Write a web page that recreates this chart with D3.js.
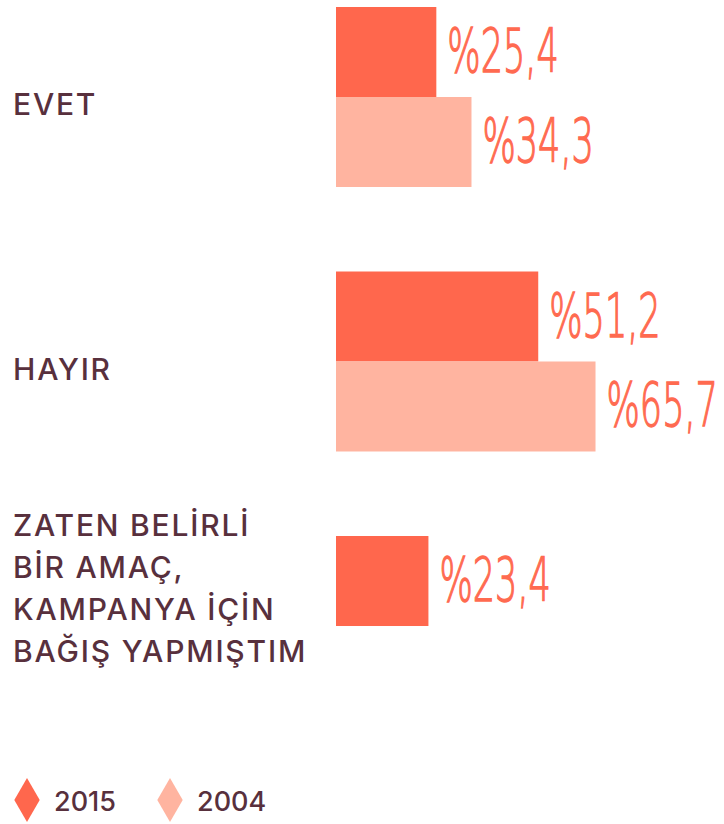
<!DOCTYPE html>
<html>
<head>
<meta charset="utf-8">
<script src="https://cdn.jsdelivr.net/npm/d3@7"></script>
<style>
  body { margin: 0; background: #fff; }
  .cat { font-family: Inter, "Noto Sans", sans-serif; font-size: 30px; font-weight: 500; letter-spacing: 1.8px; fill: #58303d; }
  .val { font-family: "DejaVu Sans", sans-serif; font-weight: 200; font-size: 61px; fill: #ff6a50; stroke: #ff6a50; stroke-width: 1.4px; }
  .leg { font-family: Inter, "Noto Sans", sans-serif; font-size: 27px; font-weight: 500; fill: #58303d; }
</style>
</head>
<body>
<div id="chart"></div>
<script>
// data
var categories = ["EVET", "HAYIR", "ZATEN"];
var categoryLabels = [
  ["EVET"],
  ["HAYIR"],
  ["ZATEN BELİRLİ", "BİR AMAÇ,", "KAMPANYA İÇİN", "BAĞIŞ YAPMIŞTIM"]
];
var seriesNames = ["2015", "2004"];
var values2015 = [25.4, 51.2, 23.4];
var values2004 = [34.3, 65.7, null];
var seriesColors = ["#ff674d", "#ffb4a0"];

var width = 724, height = 824;

var svg = d3.select("#chart").append("svg")
    .attr("width", width)
    .attr("height", height);

// scales
var x = d3.scaleLinear()
    .domain([0, 100])
    .range([336, 336 + 395]);

var y = d3.scaleBand()
    .domain(categories)
    .range([7, 716])
    .paddingInner(0.3195)
    .paddingOuter(0);

var ySub = d3.scaleBand()
    .domain(seriesNames)
    .range([0, y.bandwidth()]);

var rows = [];
categories.forEach(function(c, i) {
    rows.push({cat: c, series: "2015", value: values2015[i]});
    if (values2004[i] != null) rows.push({cat: c, series: "2004", value: values2004[i]});
});

var color = d3.scaleOrdinal().domain(seriesNames).range(seriesColors);
var fmt = function(v) { return "%" + String(v).replace(".", ","); };

// bars
svg.selectAll(".bar")
    .data(rows)
    .enter().append("rect")
    .attr("class", "bar")
    .attr("x", x(0))
    .attr("y", function(d) { return y(d.cat) + ySub(d.series); })
    .attr("width", function(d) { return x(d.value) - x(0); })
    .attr("height", ySub.bandwidth())
    .attr("fill", function(d) { return color(d.series); });

// value labels (condensed)
svg.selectAll(".val")
    .data(rows)
    .enter().append("text")
    .attr("class", "val")
    .attr("transform", function(d) {
        var cy = y(d.cat) + ySub(d.series) + ySub.bandwidth() / 2;
        return "translate(" + (x(d.value) + 11) + "," + (cy + 20) + ") scale(0.575,1)";
    })
    .text(function(d) { return fmt(d.value); });

// category labels
var lineH = 42;
categories.forEach(function(c, i) {
    var lines = categoryLabels[i];
    var hasBoth = values2004[i] != null;
    var mid = y(c) + (hasBoth ? y.bandwidth() / 2 : ySub.bandwidth() / 2) + 7;
    var t = svg.append("text").attr("class", "cat");
    lines.forEach(function(l, j) {
        t.append("tspan")
            .attr("x", 13)
            .attr("y", mid + (j - (lines.length - 1) / 2) * lineH + 11)
            .text(l);
    });
});

// legend
var legend = svg.append("g").attr("transform", "translate(0,800)");
var legX = [27, 170];
seriesNames.forEach(function(s, i) {
    legend.append("path")
        .attr("d", d3.symbol().type(d3.symbolDiamond).size(560)())
        .attr("transform", "translate(" + legX[i] + ",0)")
        .attr("fill", color(s));
    legend.append("text")
        .attr("class", "leg")
        .attr("x", legX[i] + 27)
        .attr("y", 11)
        .text(s);
});
</script>
</body>
</html>
